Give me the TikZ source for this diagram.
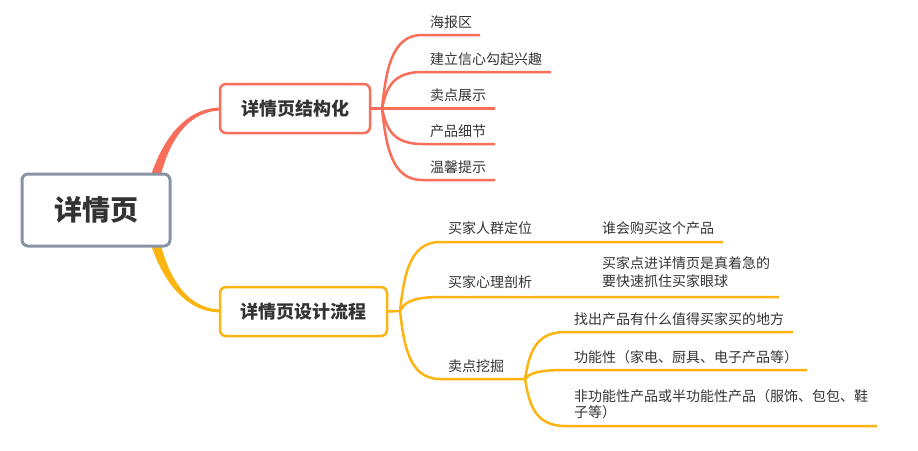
\documentclass[tikz,border=0pt]{standalone}
\usepackage{fontspec}
\setmainfont{Noto Sans CJK SC}
\usepackage{xcolor}
\usetikzlibrary{positioning,calc}
\definecolor{hubgray}{HTML}{8893A3}
\definecolor{redl}{HTML}{F96E5A}
\definecolor{orgl}{HTML}{FDB310}
\definecolor{txt}{HTML}{333333}

\begin{document}
\begin{tikzpicture}[x=1pt,y=-1pt,
 hub/.style={draw=hubgray,line width=3pt,rounded corners=6pt,fill=white,minimum width=148pt,minimum height=72pt,font=\fontsize{28}{30}\selectfont\bfseries,text=txt},
 br/.style={line width=2.5pt,rounded corners=6pt,fill=white,minimum height=49pt,font=\fontsize{18}{20}\selectfont\bfseries,text=txt},
 lf/.style={anchor=west,inner sep=0pt,align=left,font=\fontsize{14}{18}\selectfont,text=txt},
 rl/.style={draw=redl,line width=2.5pt},
 ol/.style={draw=orgl,line width=2.5pt},
 lk/.style={to path={.. controls ($(\tikztostart)!.5!(\tikztostart |- \tikztotarget)+(4,0)$) and ($(\tikztostart |- \tikztotarget)+(9,0)$) .. (\tikztotarget)}}]
 \useasboundingbox (0,0) rectangle (918,450);
 \fill[redl] (150,178) .. controls (165,132) and (190,107.5) .. (221,107.5) -- (221,110.5) .. controls (192,111) and (171,134) .. (160,178) -- cycle;
 \fill[orgl] (150,242) .. controls (165,288) and (190,312.5) .. (221,312.5) -- (221,309.5) .. controls (192,309) and (171,286) .. (160,242) -- cycle;
 \node[hub] (xq) at (96,210) {详情页};
 \node[br,draw=redl,minimum width=150pt] (jg) at (295,108.5) {详情页结构化};
 \node[br,draw=orgl,minimum width=167pt] (lc) at (303.5,311.5) {详情页设计流程};
 \coordinate (p1) at (382,108.5);
 \coordinate (a1) at (422,35);\coordinate (e1) at (480,35);
 \coordinate (a2) at (422,72);\coordinate (e2) at (551,72);
 \coordinate (e3) at (495,108.5);
 \coordinate (a4) at (422,144);\coordinate (e4) at (495,144);
 \coordinate (a5) at (422,180);\coordinate (e5) at (495,180);
 \draw[rl] (jg.east) -- (p1);
 \draw[rl] (p1) to[lk] (a1) -- (e1);
 \draw[rl] (p1) to[lk] (a2) -- (e2);
 \draw[rl] (p1) -- (e3);
 \draw[rl] (p1) to[lk] (a4) -- (e4);
 \draw[rl] (p1) to[lk] (a5) -- (e5);
 \node[lf] (hb) at (430,22) {海报区};
 \node[lf] (jl) at (430,59) {建立信心勾起兴趣};
 \node[lf] (md) at (430,95) {卖点展示};
 \node[lf] (xj) at (430,131) {产品细节};
 \node[lf] (ts) at (430,167) {温馨提示};
 \coordinate (p2) at (400,311);
 \coordinate (b1) at (440,242);\coordinate (f1) at (723,242);
 \coordinate (b2) at (440,297);\coordinate (f2) at (779,297);
 \coordinate (b3) at (440,379);\coordinate (p3) at (525,379);
 \coordinate (c1) at (565,332);\coordinate (g1) at (793,332);
 \coordinate (c2) at (565,370);\coordinate (g2) at (807,370);
 \coordinate (c3) at (565,426);\coordinate (g3) at (877,426);
 \draw[ol] (lc.east) -- (p2);
 \draw[ol] (p2) to[lk] (b1) -- (f1);
 \draw[ol] (p2) to[lk] (b2) -- (f2);
 \draw[ol] (p2) to[lk] (b3) -- (p3);
 \draw[ol] (p3) to[lk] (c1) -- (g1);
 \draw[ol] (p3) to[lk] (c2) -- (g2);
 \draw[ol] (p3) to[lk] (c3) -- (g3);
 \node[lf] (rq) at (448,228) {买家人群定位};
 \node[lf] (sh) at (602,228) {谁会购买这个产品};
 \node[lf] (xl) at (448,282) {买家心理剖析};
 \node[lf] (jj) at (602,272.5) {买家点进详情页是真着急的\\要快速抓住买家眼球};
 \node[lf] (wj) at (448,366) {卖点挖掘};
 \node[lf] (zc) at (574,319) {找出产品有什么值得买家买的地方};
 \node[lf] (gn) at (574,357) {功能性（家电、厨具、电子产品等）};
 \node[lf,font=\fontsize{14}{16}\selectfont] (fg) at (574,404) {非功能性产品或半功能性产品（服饰、包包、鞋\\子等）};
\end{tikzpicture}
\end{document}
